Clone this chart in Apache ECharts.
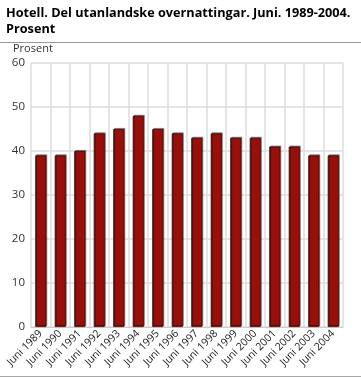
<!DOCTYPE html>
<html><head><meta charset="utf-8">
<script src="https://cdn.jsdelivr.net/npm/echarts@6/dist/echarts.min.js"></script>
<style>html,body{margin:0;padding:0;background:#fff}#c{width:361px;height:378px}</style>
</head><body><div id="c"></div>
<script>
var categories = ['Juni 1989','Juni 1990','Juni 1991','Juni 1992','Juni 1993','Juni 1994','Juni 1995','Juni 1996','Juni 1997','Juni 1998','Juni 1999','Juni 2000','Juni 2001','Juni 2002','Juni 2003','Juni 2004'];
var values = [39,39,40,44,45,48,45,44,43,44,43,43,41,41,39,39];
var yTicks = [0,10,20,30,40,50,60];
var chart = echarts.init(document.getElementById('c'));
var font = '"Open Sans", "DejaVu Sans", sans-serif';
chart.setOption({
  animation: false,
  title: {
    text: 'Hotell. Del utanlandske overnattingar. Juni. 1989-2004.\nProsent',
    left: 6, top: 5, padding: 0,
    textStyle: {fontFamily: font, fontSize: 12.7, fontWeight: 'bold', color: '#000', lineHeight: 16}
  },
  graphic: [
    {type: 'line', shape: {x1: 0, y1: 42.5, x2: 361, y2: 42.5}, style: {stroke: '#999', lineWidth: 1}},
    {type: 'line', shape: {x1: 0, y1: 376.5, x2: 361, y2: 376.5}, style: {stroke: '#aaa', lineWidth: 1}}
  ],
  grid: {left: 31, right: 18, top: 63, bottom: 51},
  xAxis: {
    type: 'category', data: categories,
    axisLine: {show: true, lineStyle: {color: '#ccc', width: 1}},
    axisTick: {show: false},
    splitLine: {show: true, lineStyle: {color: '#ddd', width: 1.5}},
    axisLabel: {rotate: 45, fontFamily: font, fontSize: 10.5, color: '#222', margin: 5, interval: 0}
  },
  yAxis: {
    type: 'value', min: 0, max: 60, interval: 10,
    name: 'Prosent', nameLocation: 'end', nameGap: 9,
    nameTextStyle: {fontFamily: font, fontSize: 11, color: '#333', align: 'left', padding: [0,0,0,-18]},
    axisLine: {show: false}, axisTick: {show: false},
    splitLine: {lineStyle: {color: '#ddd', width: 1.5}},
    axisLabel: {fontFamily: font, fontSize: 11.5, color: '#333', margin: 6,
      formatter: function(v){ return yTicks.indexOf(v) >= 0 ? String(v) : ''; }}
  },
  series: [{
    type: 'bar', data: values, barWidth: 11,
    itemStyle: {color: '#990f0a', borderColor: '#3a0604', borderWidth: 0.8,
      shadowColor: 'rgba(0,0,0,0.45)', shadowOffsetX: 1, shadowOffsetY: -1, shadowBlur: 0}
  }]
});
</script></body></html>
